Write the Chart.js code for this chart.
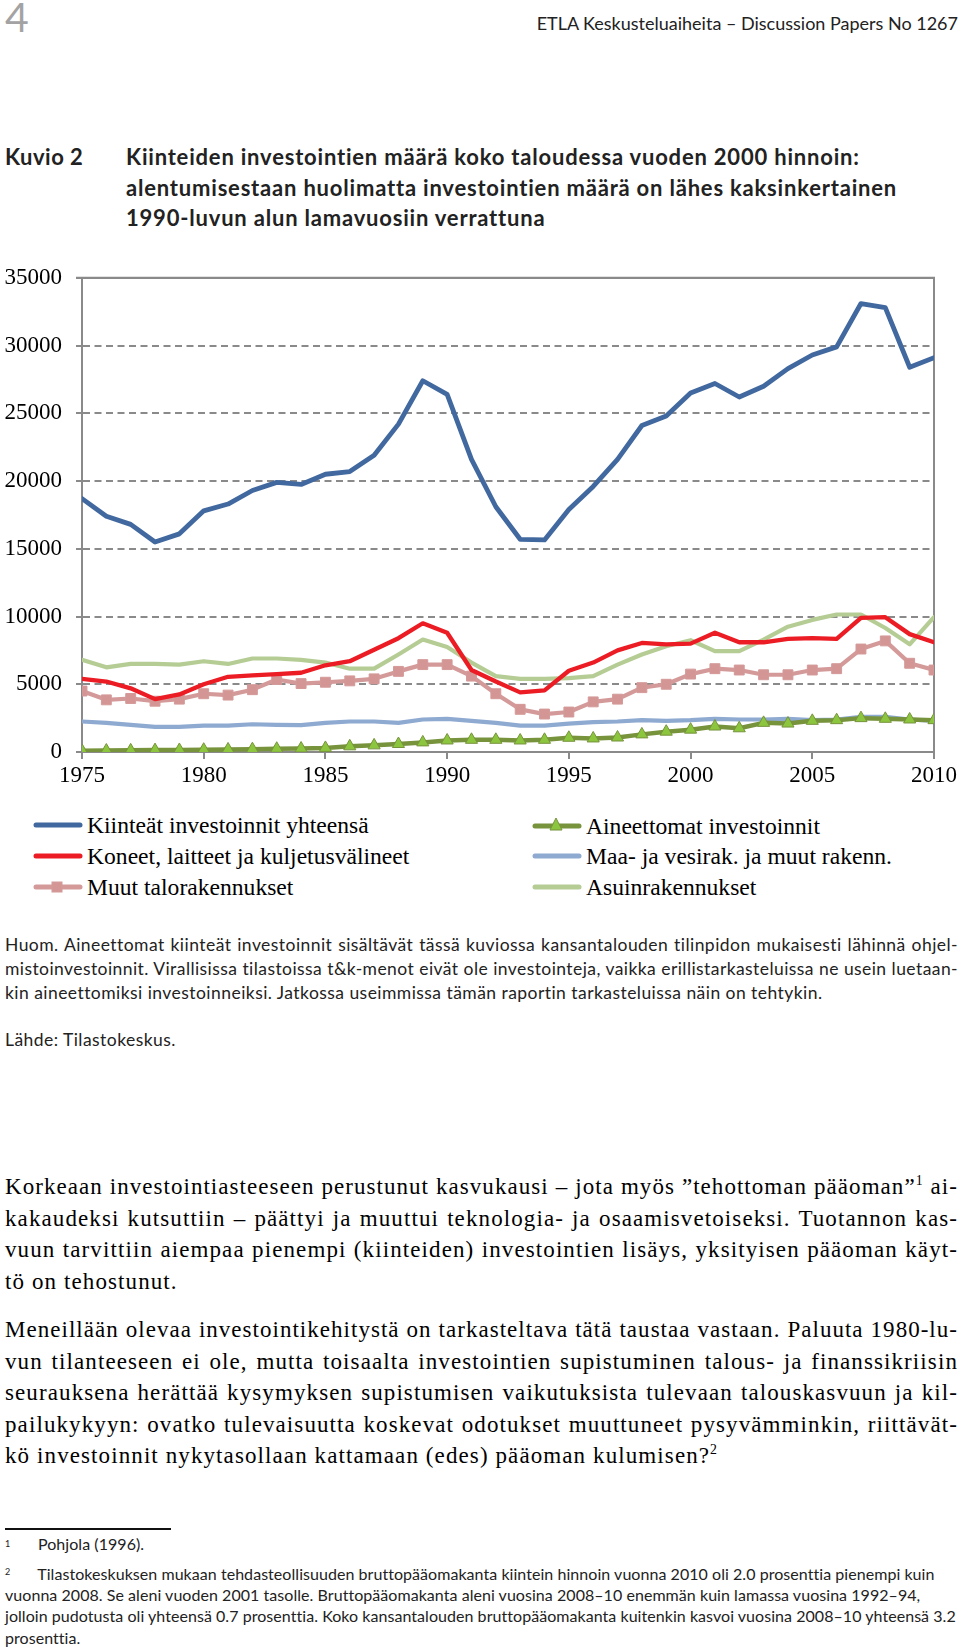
<!DOCTYPE html>
<html>
<head>
<meta charset="utf-8">
<script src="https://cdn.jsdelivr.net/npm/chart.js@4.4.1/dist/chart.umd.min.js"></script>
<style>
  html, body { margin:0; padding:0; background:#fff; }
  body { width:960px; height:1647px; position:relative; overflow:hidden; color:#000; }
  .abs { position:absolute; }
  .sans { font-family: Lato, "Open Sans", sans-serif; font-variant-ligatures:none; }
  .serif { font-family: "Liberation Serif", "DejaVu Serif", serif; }
  .jl, .nl { white-space:nowrap; }
  .legend-item { position:absolute; height:30px; display:flex; align-items:center; font-family:"Liberation Serif", serif; font-size:23.6px; white-space:nowrap; }
  .legend-item svg { margin-right:3px; }
  sup { font-size: 60%; line-height:0; }
</style>
</head>
<body>
<div class="abs sans" style="left:5px; top:-4px; font-size:41px; line-height:42px; color:#a3a3a3;">4</div>
<div class="abs sans" style="right:2px; top:12px; font-size:18px; line-height:22px; color:#222;">ETLA Keskusteluaiheita – Discussion Papers No 1267</div>

<div class="abs sans" style="left:5px; top:142px; font-size:22px; line-height:30.5px; font-weight:bold; color:#222; letter-spacing:0.5px;">Kuvio 2</div>
<div class="abs sans" style="left:126px; top:142px; font-size:22px; line-height:30.5px; font-weight:bold; color:#222; white-space:nowrap; letter-spacing:0.8px;">
Kiinteiden investointien määrä koko taloudessa vuoden 2000 hinnoin:<br>
alentumisestaan huolimatta investointien määrä on lähes kaksinkertainen<br>
1990-luvun alun lamavuosiin verrattuna
</div>

<div class="abs" style="left:0; top:250px; width:960px; height:550px;">
  <canvas id="c" width="960" height="550"></canvas>
</div>

<div id="legend"></div>

<div class="abs sans" style="left:5px; top:933px; width:953px; font-size:17.5px; line-height:23.75px; color:#222; letter-spacing:0.45px;">
  <div class="jl">Huom. Aineettomat kiinteät investoinnit sisältävät tässä kuviossa kansantalouden tilinpidon mukaisesti lähinnä ohjel-</div>
  <div class="jl">mistoinvestoinnit. Virallisissa tilastoissa t&amp;k-menot eivät ole investointeja, vaikka erillistarkasteluissa ne usein luetaan-</div>
  <div class="nl">kin aineettomiksi investoinneiksi. Jatkossa useimmissa tämän raportin tarkasteluissa näin on tehtykin.</div>
</div>
<div class="abs sans" style="left:5px; top:1028px; font-size:17.5px; line-height:24px; color:#222; letter-spacing:0.45px;">Lähde: Tilastokeskus.</div>

<div class="abs serif" style="left:5px; top:1171px; width:953px; font-size:23px; line-height:31.5px; letter-spacing:1.1px;">
  <div class="jl">Korkeaan investointiasteeseen perustunut kasvukausi – jota myös ”tehottoman pääoman”<sup>1</sup> ai-</div>
  <div class="jl">kakaudeksi kutsuttiin – päättyi ja muuttui teknologia- ja osaamisvetoiseksi. Tuotannon kas-</div>
  <div class="jl">vuun tarvittiin aiempaa pienempi (kiinteiden) investointien lisäys, yksityisen pääoman käyt-</div>
  <div class="nl">tö on tehostunut.</div>
</div>
<div class="abs serif" style="left:5px; top:1314px; width:953px; font-size:23px; line-height:31.5px; letter-spacing:1.1px;">
  <div class="jl">Meneillään olevaa investointikehitystä on tarkasteltava tätä taustaa vastaan. Paluuta 1980-lu-</div>
  <div class="jl">vun tilanteeseen ei ole, mutta toisaalta investointien supistuminen talous- ja finanssikriisin</div>
  <div class="jl">seurauksena herättää kysymyksen supistumisen vaikutuksista tulevaan talouskasvuun ja kil-</div>
  <div class="jl">pailukykyyn: ovatko tulevaisuutta koskevat odotukset muuttuneet pysyvämminkin, riittävät-</div>
  <div class="nl">kö investoinnit nykytasollaan kattamaan (edes) pääoman kulumisen?<sup>2</sup></div>
</div>

<div class="abs" style="left:5px; top:1528px; width:166px; height:2px; background:#111;"></div>
<div class="abs sans" style="left:5px; top:1533px; font-size:16px; line-height:22px; color:#222; letter-spacing:0.05px;"><span style="font-size:9px; vertical-align:5px;">1</span><span style="position:absolute; left:33px; white-space:nowrap;">Pohjola (1996).</span></div>
<div class="abs sans" style="left:5px; top:1561px; width:955px; font-size:16px; line-height:21.2px; color:#222; white-space:nowrap; letter-spacing:0.05px;">
  <div><span style="font-size:9px; vertical-align:5px;">2</span><span style="display:inline-block; width:27px;"></span>Tilastokeskuksen mukaan tehdasteollisuuden bruttopääomakanta kiintein hinnoin vuonna 2010 oli 2.0 prosenttia pienempi kuin</div>
  <div>vuonna 2008. Se aleni vuoden 2001 tasolle. Bruttopääomakanta aleni vuosina 2008–10 enemmän kuin lamassa vuosina 1992–94,</div>
  <div>jolloin pudotusta oli yhteensä 0.7 prosenttia. Koko kansantalouden bruttopääomakanta kuitenkin kasvoi vuosina 2008–10 yhteensä 3.2</div>
  <div>prosenttia.</div>
</div>

<script>
// ---- data ----
const years = [1975,1976,1977,1978,1979,1980,1981,1982,1983,1984,1985,1986,1987,1988,1989,1990,1991,1992,1993,1994,1995,1996,1997,1998,1999,2000,2001,2002,2003,2004,2005,2006,2007,2008,2009,2010];
const seriesNames = ["Kiinteät investoinnit yhteensä","Koneet, laitteet ja kuljetusvälineet","Muut talorakennukset","Aineettomat investoinnit","Maa- ja vesirak. ja muut rakenn.","Asuinrakennukset"];
const totalInv   = [18700,17400,16800,15500,16100,17800,18300,19300,19900,19750,20500,20700,21900,24200,27400,26400,21600,18100,15700,15650,17900,19600,21600,24100,24800,26500,27200,26200,27000,28300,29300,29900,33100,32800,28400,29100];
const machinery  = [5400,5200,4700,3900,4250,5000,5550,5650,5750,5850,6400,6700,7550,8400,9500,8800,6050,5200,4400,4550,6000,6600,7500,8050,7950,8000,8800,8100,8100,8350,8400,8350,9900,9950,8700,8100];
const otherBuild = [4500,3850,3950,3750,3900,4300,4200,4600,5350,5050,5150,5250,5400,5950,6450,6450,5600,4300,3150,2800,2950,3700,3900,4750,5000,5750,6150,6050,5700,5700,6050,6150,7600,8200,6550,6050];
const intangible = [100,110,120,140,150,170,190,210,240,260,300,420,490,590,710,850,900,900,850,900,1050,1000,1070,1300,1500,1650,1880,1750,2150,2100,2300,2350,2500,2450,2400,2350];
const civilEng   = [2250,2150,2000,1850,1850,1950,1950,2050,2000,1980,2150,2250,2250,2150,2400,2450,2300,2150,1950,1950,2100,2200,2250,2350,2300,2350,2450,2400,2400,2450,2350,2400,2600,2600,2400,2300];
const dwellings  = [6800,6250,6500,6500,6450,6700,6500,6900,6900,6800,6600,6150,6150,7200,8300,7750,6600,5600,5400,5400,5450,5600,6450,7200,7800,8250,7450,7450,8300,9250,9750,10150,10150,9150,7950,9950];
const yTicks = [0,5000,10000,15000,20000,25000,30000,35000];
const xTickStep = 5;

// ---- justify text lines exactly to the column width without wrapping ----
function fitLine(el){
  const W = el.parentElement.clientWidth;
  el.innerHTML = '<span class="m">' + el.innerHTML + '</span>';
  const m = el.firstChild;
  const txt = el.textContent;
  const chars = txt.length;
  const spaces = (txt.match(/ /g) || []).length;
  let w = m.getBoundingClientRect().width;
  if (w > W - 1) {
    const ls = parseFloat(getComputedStyle(el).letterSpacing) || 0;
    el.style.letterSpacing = (ls - (w - W + 2) / chars) + 'px';
    w = m.getBoundingClientRect().width;
  }
  if (spaces > 0) el.style.wordSpacing = ((W - w) / spaces) + 'px';
}
document.querySelectorAll('.jl').forEach(fitLine);

const pts = arr => arr.map((v,i)=>({x:years[i], y:v}));

const styles = [
  {color:'#41699f', width:4.8, point:false},
  {color:'#ec1c24', width:4.3, point:false},
  {color:'#d49a99', width:4.2, point:'rect', pr:7, fill:'#d39695'},
  {color:'#77933c', width:4.5, point:'triangle', pr:7, fill:'#8cc63f'},
  {color:'#8eaad1', width:4.2, point:false},
  {color:'#b5cd95', width:4.2, point:false}
];
const values = [totalInv, machinery, otherBuild, intangible, civilEng, dwellings];
const drawOrder = [0, 1, 2, 3, 4, 5];

const datasets = values.map((v,i)=>{
  const s = styles[i];
  return {
    label: seriesNames[i],
    data: pts(v),
    borderColor: s.color,
    borderWidth: s.width,
    backgroundColor: s.fill || s.color,
    pointStyle: s.point || 'circle',
    pointRadius: s.point ? s.pr : 0,
    pointHoverRadius: s.point ? s.pr : 0,
    pointBackgroundColor: s.fill || s.color,
    pointBorderColor: s.color,
    pointBorderWidth: 1,
    tension: 0,
    borderJoinStyle: 'round',
    borderCapStyle: 'round',
    fill: false,
    order: drawOrder[i]
  };
});

const frame = {
  id:'frame',
  beforeDatasetsDraw(chart){
    const {ctx, chartArea:a} = chart;
    ctx.save();
    ctx.strokeStyle = '#8a8a8a';
    ctx.lineWidth = 2;
    ctx.beginPath();
    ctx.moveTo(a.left-6, a.top);
    ctx.lineTo(a.right, a.top);
    ctx.lineTo(a.right, a.bottom);
    ctx.stroke();
    ctx.restore();
  }
};

const tickFont = {family:'"Liberation Serif", "Times New Roman", serif', size:23};

new Chart(document.getElementById('c'), {
  type:'line',
  data:{ datasets },
  options:{
    responsive:false,
    animation:false,
    devicePixelRatio:1,
    layout:{ padding:{ top:25, right:24, left:0, bottom:0 } },
    plugins:{ legend:{display:false}, tooltip:{enabled:false} },
    scales:{
      x:{
        type:'linear', min:years[0], max:years[years.length-1],
        ticks:{ stepSize:xTickStep, font:tickFont, color:'#000', padding:3, callback:v=>String(v), maxRotation:0 },
        grid:{ drawOnChartArea:false, drawTicks:true, tickLength:7, color:'#8a8a8a', lineWidth:2 },
        border:{ display:true, color:'#8a8a8a', width:2 },
        afterFit: s => { s.height = 48; }
      },
      y:{
        min:yTicks[0], max:yTicks[yTicks.length-1],
        afterBuildTicks: s => { s.ticks = yTicks.map(v=>({value:v})); },
        ticks:{ font:tickFont, color:'#000', padding:14, callback:v=>String(v) },
        grid:{ color:'#8a8a8a', lineWidth:2, tickLength:6 },
        border:{ display:true, color:'#8a8a8a', width:2,
          dash: ctx => (ctx.tick && (ctx.tick.value===yTicks[0] || ctx.tick.value===yTicks[yTicks.length-1])) ? [] : [7,4.5] },
        afterFit: s => { s.width = 82; }
      }
    }
  },
  plugins:[frame]
});

// ---- HTML legend (two columns, three rows) ----
const legendSlots = [
  {ds:0, x:32, y:810}, {ds:1, x:32, y:841}, {ds:2, x:32, y:872},
  {ds:3, x:531, y:811}, {ds:4, x:531, y:841}, {ds:5, x:531, y:872}
];
const lg = document.getElementById('legend');
legendSlots.forEach(sl=>{
  const s = styles[sl.ds];
  let marker = '';
  if (s.point==='rect') marker = `<rect x="20" y="5" width="10" height="10" fill="${s.fill}" stroke="${s.color}" stroke-width="1"/>`;
  if (s.point==='triangle') marker = `<polygon points="25,2 31,14 19,14" fill="${s.fill}" stroke="${s.color}" stroke-width="1"/>`;
  const div = document.createElement('div');
  div.className = 'legend-item';
  div.style.left = sl.x + 'px';
  div.style.top = sl.y + 'px';
  div.innerHTML = `<svg width="52" height="20" viewBox="0 0 52 20"><line x1="4" y1="10" x2="48" y2="10" stroke="${s.color}" stroke-width="5" stroke-linecap="round"/>${marker}</svg><span>${seriesNames[sl.ds]}</span>`;
  lg.appendChild(div);
});
</script>
</body>
</html>
